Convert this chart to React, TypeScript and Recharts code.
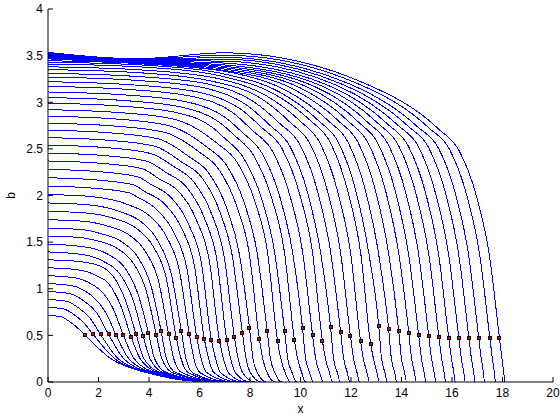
import { ComposedChart, Line, Scatter, XAxis, YAxis, Label } from "recharts"

// axis ticks
const X_TICKS = [0, 2, 4, 6, 8, 10, 12, 14, 16, 18, 20]
const Y_TICKS = [0, 0.5, 1, 1.5, 2, 2.5, 3, 3.5, 4]

// b at x = 0 for each of the 50 profiles (lowest first)
const START_B = [0.714, 0.8, 0.885, 0.97, 1.055, 1.14, 1.225, 1.31, 1.395, 1.48, 1.565, 1.65, 1.74, 1.83, 1.92, 2.01, 2.1, 2.19, 2.28, 2.37, 2.455, 2.54, 2.62, 2.7, 2.775, 2.85, 2.92, 2.99, 3.05, 3.11, 3.17, 3.22, 3.27, 3.31, 3.35, 3.38, 3.41, 3.43, 3.445, 3.465, 3.472, 3.479, 3.486, 3.493, 3.5, 3.507, 3.514, 3.521, 3.528, 3.535]

// plateau samples (null = not read for that profile)
const P1_X = [0.51, 0.627, 0.728, 0.84, 0.945, 1.047, 1.152, 1.222, null, null, 1.287, 1.344, 1.434, 1.524, 1.584, 1.68, 1.767, 1.857, 1.941, 2.037, 2.124, 2.214, 2.31, 2.394, 2.511, 2.604, 2.727, 2.811, 2.928, 3.024, 3.144, 3.261, 3.357, 3.477, 3.594, 3.714, 3.834, 3.93, 4.047, 3.5, 3.5, 3.5, 3.5, 3.5, 3.5, 3.5, 3.5, 3.5, 3.5, 3.5]
const P1_B = [0.7, 0.783, 0.866, 0.949, 1.033, 1.118, 1.205, 1.293, null, null, 1.549, 1.634, 1.723, 1.812, 1.901, 1.99, 2.079, 2.168, 2.257, 2.346, 2.43, 2.515, 2.594, 2.673, 2.747, 2.822, 2.891, 2.96, 3.02, 3.079, 3.138, 3.188, 3.237, 3.277, 3.317, 3.346, 3.376, 3.396, 3.408, 3.415, 3.423, 3.43, 3.436, 3.441, 3.446, 3.45, 3.454, 3.458, 3.462, 3.466]
const P2_X = [0.88, 1.074, 1.248, 1.44, 1.62, 1.794, 1.974, 2.094, null, null, null, null, null, null, null, null, 3.24, 3.405, 3.559, 3.735, 3.894, 4.059, 4.235, 4.389, 4.604, 4.774, 5.0, 5.154, 5.368, 5.544, 5.764, 5.979, 6.155, 6.375, 6.589, 6.809, 7.029, 7.205, 7.42, 7, 7, 7, 7, 7, 7, 7, 7, 7, 7, 7]
const P2_B = [0.643, 0.714, 0.787, 0.865, 0.948, 1.039, 1.134, 1.239, null, null, null, null, null, null, null, null, 2.027, 2.113, 2.2, 2.287, 2.369, 2.451, 2.528, 2.606, 2.678, 2.75, 2.818, 2.885, 2.943, 3.001, 3.059, 3.107, 3.156, 3.194, 3.22, 3.25, 3.27, 3.29, 3.31, 3.34, 3.355, 3.37, 3.385, 3.4, 3.42, 3.44, 3.46, 3.48, 3.505, 3.53]
const P3_X = [1.18, 1.432, 1.664, 1.92, null, null, null, null, null, null, null, null, null, null, null, null, null, null, null, null, null, null, null, null, null, null, null, 6.559, 6.832, 7.056, 7.336, 7.609, 7.833, 8.113, 8.386, 8.666, 8.946, 9.17, 9.443, 9.723, 10.003, 10.276, 10.556, 10.836, 11.109, 11.389, 11.669, 11.942, 12.25, 12.516]
const P3_B = [0.578, 0.63, 0.684, 0.746, null, null, null, null, null, null, null, null, null, null, null, null, null, null, null, null, null, null, null, null, null, null, null, 2.721, 2.776, 2.83, 2.885, 2.93, 2.976, 3.012, 3.049, 3.066, 3.09, 3.11, 3.125, 3.14, 3.152, 3.162, 3.169, 3.175, 3.18, 3.186, 3.191, 3.196, 3.201, 3.206]

// b read at fixed distances behind each front
const BEHIND = [2.4, 1.6, 0.9, 0.4]
const D24_B = [null, null, null, null, null, null, null, null, 1.367, 1.443, 1.518, 1.592, 1.67, 1.748, 1.824, 1.899, 1.99, 2.048, 2.12, 2.18, 2.246, 2.311, 2.358, 2.417, 2.47, 2.522, 2.561, 2.62, 2.65, 2.68, 2.701, 2.727, 2.753, 2.77, 2.787, 2.799, 2.806, 2.806, 2.804, 2.803, 2.797, 2.791, 2.781, 2.771, 2.761, 2.751, 2.741, 2.731, 2.721, 2.71]
const D16_B = [null, null, null, null, null, null, null, null, 1.297, 1.369, 1.44, 1.51, 1.583, 1.652, 1.72, 1.787, 1.852, 1.916, 1.979, 2.038, 2.092, 2.144, 2.19, 2.236, 2.278, 2.32, 2.356, 2.392, 2.422, 2.451, 2.479, 2.502, 2.524, 2.539, 2.553, 2.559, 2.568, 2.569, 2.567, 2.564, 2.557, 2.551, 2.544, 2.537, 2.53, 2.524, 2.517, 2.51, 2.496, 2.482]
const D09_B = [null, null, null, null, 0.91, 0.98, 1.06, 1.13, 1.149, 1.21, 1.27, 1.33, 1.39, 1.446, 1.5, 1.554, 1.6, 1.648, 1.69, 1.729, 1.766, 1.802, 1.83, 1.863, 1.889, 1.915, 1.938, 1.956, 1.971, 1.986, 2.0, 2.011, 2.022, 2.03, 2.036, 2.035, 2.039, 2.04, 2.034, 2.032, 2.029, 2.02, 2.017, 2.014, 2.01, 2.002, 1.999, 1.995, 1.988, 1.981]
const D04_B = [null, null, null, null, 0.74, 0.78, 0.81, 0.86, 0.88, 0.93, 0.98, 1.03, 1.08, 1.12, 1.16, 1.2, 1.23, 1.26, 1.28, 1.3, 1.32, 1.34, 1.35, 1.37, 1.38, 1.39, 1.4, 1.4, 1.4, 1.4, 1.4, 1.4, 1.4, 1.4, 1.4, 1.39, 1.39, 1.39, 1.38, 1.38, 1.38, 1.37, 1.37, 1.37, 1.37, 1.36, 1.36, 1.36, 1.36, 1.36]

// front markers (black/red squares)
const MARK_X = [1.47, 1.79, 2.08, 2.4, 2.7, 2.99, 3.29, 3.49, 3.77, 3.98, 4.29, 4.48, 4.78, 5.08, 5.28, 5.6, 5.89, 6.19, 6.47, 6.79, 7.08, 7.38, 7.7, 7.98, 8.37, 8.68, 9.09, 9.37, 9.76, 10.08, 10.48, 10.87, 11.19, 11.59, 11.98, 12.38, 12.78, 13.1, 13.49, 13.89, 14.29, 14.68, 15.08, 15.48, 15.87, 16.27, 16.67, 17.06, 17.5, 17.88]
const MARK_B = [0.5, 0.51, 0.51, 0.51, 0.5, 0.5, 0.485, 0.51, 0.49, 0.525, 0.505, 0.547, 0.51, 0.475, 0.547, 0.51, 0.485, 0.464, 0.453, 0.443, 0.453, 0.485, 0.525, 0.578, 0.464, 0.547, 0.443, 0.547, 0.45, 0.578, 0.5, 0.44, 0.59, 0.536, 0.49, 0.44, 0.407, 0.6, 0.568, 0.547, 0.525, 0.5, 0.49, 0.482, 0.471, 0.471, 0.471, 0.471, 0.471, 0.471]

// tail of each profile below the front
const TAIL_B = 0.25
const TAIL_X = [2.49, 2.64, 2.78, 3.0, 3.2, 3.41, 3.65, 3.8, 4.04, 4.22, 4.51, 4.69, 4.98, 5.27, 5.465, 5.78, 6.065, 6.36, 6.635, 6.95, 7.235, 7.53, 7.845, 8.12, 8.505, 8.81, 9.22, 9.495, 9.885, 10.2, 10.6, 10.99, 11.31, 11.71, 12.1, 12.49, 12.89, 13.21, 13.6, 14.0, 14.4, 14.79, 15.19, 15.59, 15.98, 16.37, 16.77, 17.16, 17.6, 17.98]
const TOE_B = 0.1
const TOE_X = [3.9, 3.97, 4.03, 4.1, 4.18, 4.27, 4.37, 4.45, 4.58, 4.7, 4.93, 5.06, 5.3, 5.56, 5.73, 6.02, 6.29, 6.57, 6.83, 7.14, 7.42, 7.71, 8.02, 8.295, 8.68, 8.985, 9.39, 9.665, 10.05, 10.365, 10.76, 11.145, 11.46, 11.855, 12.24, 12.635, 13.03, 13.345, 13.73, 14.125, 14.515, 14.9, 15.295, 15.69, 16.075, 16.47, 16.86, 17.245, 17.68, 18.05]
const FOOT_X = [6.5, 6.55, 6.6, 6.62, 6.65, 6.67, 6.7, 6.72, 6.75, 6.78, 6.82, 6.86, 6.9, 6.98, 7.05, 7.2, 7.35, 7.5, 7.7, 7.85, 8.0, 8.2, 8.45, 8.65, 9.0, 9.25, 9.6, 9.85, 10.2, 10.5, 10.9, 11.27, 11.57, 11.96, 12.34, 12.73, 13.12, 13.43, 13.81, 14.2, 14.59, 14.97, 15.36, 15.75, 16.13, 16.52, 16.91, 17.29, 17.72, 18.1]

const BEHIND_B = [D24_B, D16_B, D09_B, D04_B]

const curves = START_B.map((b0, i) => {
  const f = MARK_X[i]
  const pts: { x: number; b: number }[] = [{ x: 0, b: b0 }]
  const plateau = [
    [P1_X[i], P1_B[i]],
    [P2_X[i], P2_B[i]],
    [P3_X[i], P3_B[i]],
  ]
  plateau.forEach(([x, b]) => {
    if (x != null && b != null) pts.push({ x, b })
  })
  BEHIND.forEach((d, j) => {
    const b = BEHIND_B[j][i]
    if (b != null) pts.push({ x: f - d, b })
  })
  pts.push({ x: f, b: MARK_B[i] })
  pts.push({ x: TAIL_X[i], b: TAIL_B })
  pts.push({ x: TOE_X[i], b: TOE_B })
  pts.push({ x: FOOT_X[i], b: 0 })
  pts.push({ x: 20, b: 0 })
  return pts
})

const marks = MARK_X.map((x, i) => ({ x, b: MARK_B[i] }))

const font = "'Liberation Sans', Arial, sans-serif"

function YTick(props: any) {
  const { x, y, payload } = props
  return (
    <g>
      <line x1={x + 5} x2={x + 10} y1={y} y2={y} stroke="#000" />
      <text x={x} y={y} dy="0.36em" textAnchor="end" fontSize={12} fontFamily={font} fill="#000">
        {payload.value}
      </text>
    </g>
  )
}

function XTick(props: any) {
  const { x, y, payload } = props
  return (
    <g>
      <line x1={x} x2={x} y1={y - 6} y2={y - 11} stroke="#000" />
      <text x={x} y={y} dy="0.72em" textAnchor="middle" fontSize={12} fontFamily={font} fill="#000">
        {payload.value}
      </text>
    </g>
  )
}

function Marker(props: any) {
  const { cx, cy } = props
  return <rect x={Math.round(cx) - 1.5} y={Math.round(cy) - 1.5} width={3} height={3} fill="#e00000" stroke="#000" strokeWidth={1} />
}

export default function App() {
  return (
    <div style={{ position: "absolute", left: 0, top: 0, width: 560, height: 420, background: "#fff" }}>
      <ComposedChart width={560} height={420} margin={{ top: 9, right: 7, bottom: 6, left: 0 }}>
        <XAxis
          type="number"
          dataKey="x"
          domain={[0, 20]}
          ticks={X_TICKS}
          interval={0}
          height={32}
          tickSize={0}
          tickMargin={6}
          tickLine={false}
          tick={<XTick />}
          axisLine={{ stroke: "#000" }}
          allowDataOverflow
        >
          <Label
            content={(p: any) => (
              <text x={p.viewBox.x + p.viewBox.width / 2} y={p.viewBox.y + 31} textAnchor="middle" fontSize={12} fontFamily={font}>
                x
              </text>
            )}
          />
        </XAxis>
        <YAxis
          type="number"
          domain={[0, 4]}
          ticks={Y_TICKS}
          interval={0}
          width={48}
          tickSize={0}
          tickMargin={5}
          tickLine={false}
          tick={<YTick />}
          axisLine={{ stroke: "#000" }}
          allowDataOverflow
        >
          <Label
            content={(p: any) => {
              const cy = p.viewBox.y + p.viewBox.height / 2
              return (
                <text x={15} y={cy} transform={`rotate(-90 15 ${cy})`} textAnchor="middle" fontSize={12} fontFamily={font}>
                  b
                </text>
              )
            }}
          />
        </YAxis>
        {curves.map((c, i) => (
          <Line
            key={i}
            data={c}
            dataKey="b"
            type="monotone"
            stroke="#0000ff"
            strokeWidth={1}
            shapeRendering="crispEdges"
            dot={false}
            activeDot={false}
            isAnimationActive={false}
          />
        ))}
        <Scatter data={marks} dataKey="b" shape={<Marker />} isAnimationActive={false} />
      </ComposedChart>
    </div>
  )
}
